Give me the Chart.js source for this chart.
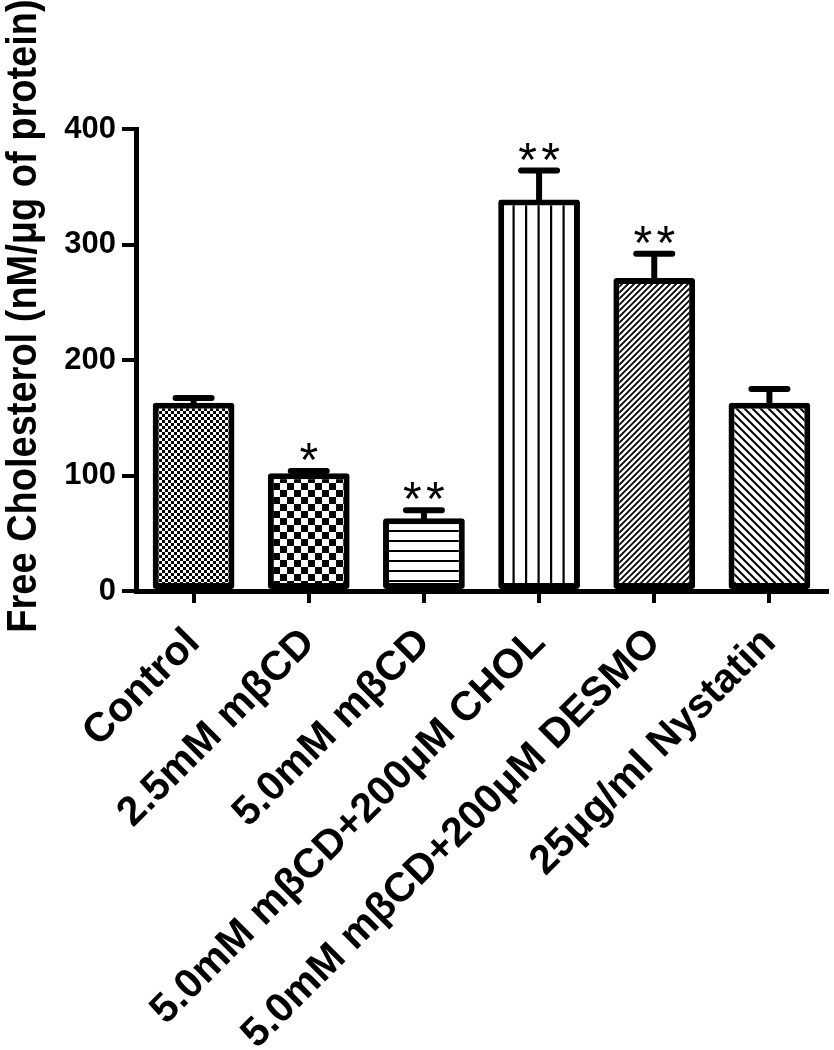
<!DOCTYPE html>
<html>
<head>
<meta charset="utf-8">
<script src="https://cdn.jsdelivr.net/npm/chart.js@4.4.0/dist/chart.umd.min.js"></script>
<style>
  html, body { margin: 0; padding: 0; background: #fff; }
  #wrap { width: 834px; height: 1050px; position: relative; }
</style>
</head>
<body>
<div id="wrap"><canvas id="cholChart"></canvas></div>
<script>
const categories = [
  "Control",
  "2.5mM mβCD",
  "5.0mM mβCD",
  "5.0mM mβCD+200μM CHOL",
  "5.0mM mβCD+200μM DESMO",
  "25μg/ml Nystatin",
];
const meanValues = [163, 102, 63, 339, 271, 163];
const semValues = [4, 2, 7, 25, 21, 12];
const starCounts = [0, 1, 2, 2, 2, 0];
const yTickValues = [0, 100, 200, 300, 400];
const yTitle = "Free Cholesterol (nM/μg of protein)";

const FONT = "'Liberation Sans', Arial, Helvetica, sans-serif";
Chart.defaults.font.family = FONT;
Chart.defaults.color = "#000";

// fill patterns, one per bar
function makePattern(kind) {
  const c = document.createElement("canvas");
  const g = c.getContext("2d");
  let w = 8, h = 8;
  if (kind === "fineCheck") { w = h = 6; }
  if (kind === "coarseCheck") { w = h = 14; }
  if (kind === "hLines") { w = 4; h = 10; }
  if (kind === "vLines") { w = 25; h = 4; }
  if (kind === "upDiag") { w = h = 6; }
  if (kind === "downDiag") { w = h = 8; }
  c.width = w;
  c.height = h;
  g.fillStyle = "#fff";
  g.fillRect(0, 0, w, h);
  g.fillStyle = "#000";
  g.strokeStyle = "#000";

  if (kind === "fineCheck") {
    g.fillRect(0, 0, 3, 3);
    g.fillRect(3, 3, 3, 3);
  } else if (kind === "coarseCheck") {
    g.fillRect(0, 0, 7, 7);
    g.fillRect(7, 7, 7, 7);
  } else if (kind === "hLines") {
    g.fillRect(0, 0, w, 2);
  } else if (kind === "vLines") {
    g.fillRect(0, 0, 2.2, h);
    g.fillRect(12.5, 0, 2.2, h);
  } else if (kind === "upDiag") {
    g.lineWidth = 1.8;
    g.beginPath();
    g.moveTo(-1, h + 1); g.lineTo(w + 1, -1);
    g.moveTo(-1, 1); g.lineTo(1, -1);
    g.moveTo(w - 1, h + 1); g.lineTo(w + 1, h - 1);
    g.stroke();
  } else if (kind === "downDiag") {
    g.lineWidth = 2;
    g.beginPath();
    g.moveTo(-1, -1); g.lineTo(w + 1, h + 1);
    g.moveTo(w - 1, -1); g.lineTo(w + 1, 1);
    g.moveTo(-1, h - 1); g.lineTo(1, h + 1);
    g.stroke();
  }
  const ctx = document.createElement("canvas").getContext("2d");
  return ctx.createPattern(c, "repeat");
}

const barFills = ["fineCheck", "coarseCheck", "hLines", "vLines", "upDiag", "downDiag"].map(makePattern);

// error bars, significance stars and the y title
const extras = {
  id: "extras",
  afterDatasetsDraw(chart) {
    const ctx = chart.ctx;
    const y = chart.scales.y;
    const meta = chart.getDatasetMeta(0);
    ctx.save();
    ctx.strokeStyle = "#000";
    ctx.fillStyle = "#000";
    ctx.lineCap = "round";
    ctx.lineWidth = 6;
    meta.data.forEach((bar, i) => {
      const top = y.getPixelForValue(meanValues[i]);
      const hi = y.getPixelForValue(meanValues[i] + semValues[i]);
      ctx.beginPath();
      ctx.moveTo(bar.x, top);
      ctx.lineTo(bar.x, hi);
      ctx.moveTo(bar.x - 18, hi);
      ctx.lineTo(bar.x + 18, hi);
      ctx.stroke();

      const n = starCounts[i];
      ctx.font = "48px " + FONT;
      ctx.textAlign = "center";
      ctx.textBaseline = "alphabetic";
      for (let k = 0; k < n; k++) {
        const sx = bar.x + (k - (n - 1) / 2) * 23;
        ctx.fillText("*", sx, hi + 5);
      }
    });
    ctx.restore();
  },
  afterDraw(chart) {
    const ctx = chart.ctx;
    ctx.save();
    ctx.translate(36, 316);
    ctx.rotate(-Math.PI / 2);
    ctx.scale(1, 1.12);
    ctx.font = "bold 38px " + FONT;
    ctx.fillStyle = "#000";
    ctx.textAlign = "center";
    ctx.textBaseline = "alphabetic";
    ctx.fillText(yTitle, 0, 0);
    ctx.restore();
  },
};

new Chart(document.getElementById("cholChart"), {
  type: "bar",
  data: {
    labels: categories,
    datasets: [
      {
        data: meanValues,
        backgroundColor: barFills,
        borderColor: "#000",
        borderWidth: 6,
        borderRadius: 3,
        borderSkipped: false,
        barPercentage: 0.71,
        categoryPercentage: 1,
      },
    ],
  },
  options: {
    responsive: true,
    maintainAspectRatio: false,
    animation: false,
    events: [],
    layout: { padding: { top: 129, right: 7, left: 0, bottom: 0 } },
    plugins: {
      legend: { display: false },
      tooltip: { enabled: false },
    },
    scales: {
      x: {
        offset: true,
        grid: {
          offset: false,
          drawOnChartArea: false,
          color: "#000",
          lineWidth: 4,
          tickLength: 12,
        },
        border: { color: "#000", width: 5 },
        ticks: {
          autoSkip: false,
          minRotation: 45,
          maxRotation: 45,
          padding: 16,
          labelOffset: 0,
          color: "#000",
          font: { size: 41, weight: "bold" },
        },
        afterFit(scale) {
          scale.height = 459;
          scale.paddingLeft = 0;
          scale.paddingRight = 0;
        },
      },
      y: {
        min: 0,
        max: 400,
        afterBuildTicks(scale) {
          scale.ticks = yTickValues.map((v) => ({ value: v }));
        },
        grid: {
          drawOnChartArea: false,
          color: "#000",
          lineWidth: 4,
          tickLength: 14,
        },
        border: { color: "#000", width: 5 },
        ticks: {
          padding: 6,
          color: "#000",
          font: { size: 31, weight: "bold" },
        },
        afterFit(scale) {
          scale.width = 136;
          scale.paddingTop = 0;
          scale.paddingBottom = 0;
        },
      },
    },
  },
  plugins: [extras],
});
</script>
</body>
</html>
